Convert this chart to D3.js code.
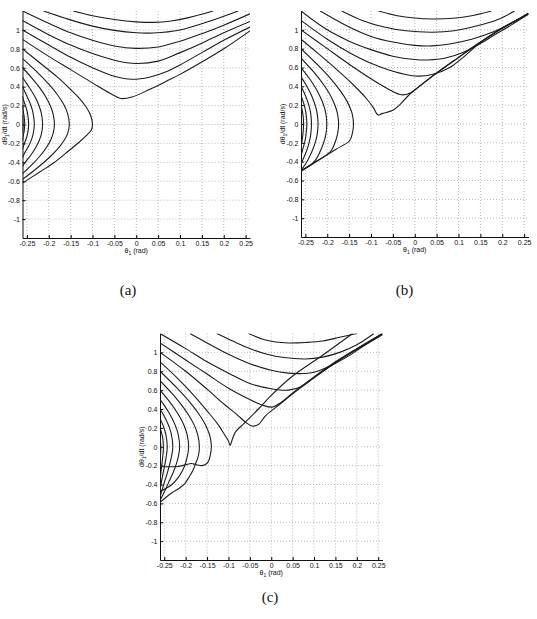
<!DOCTYPE html>
<html>
<head>
<meta charset="utf-8">
<script src="https://cdn.jsdelivr.net/npm/d3@7"></script>
<style>
  body { margin: 0; background: #fff; }
  svg { display: block; }
  .tick text { font-family: "Liberation Sans", Arial, sans-serif; font-size: 7px; fill: #111; }
  .lbl { font-family: "Liberation Sans", Arial, sans-serif; font-size: 7px; fill: #111; }
  .cap { font-family: "Liberation Serif", "DejaVu Serif", serif; font-size: 15px; fill: #111; }
</style>
</head>
<body>
<script>
// axis values
const xDomain = [-0.26, 0.26]
const yDomain = [-1.2, 1.2]
const xTicks = [-0.25, -0.2, -0.15, -0.1, -0.05, 0, 0.05, 0.1, 0.15, 0.2, 0.25]
const yTicks = [-1, -0.8, -0.6, -0.4, -0.2, 0, 0.2, 0.4, 0.6, 0.8, 1]

// trajectories [theta1, dtheta1/dt]
const curvesA = [
    [[-0.144,1.2],[-0.1,1.15],[-0.05,1.11],[0,1.085],[0.04,1.08],[0.08,1.095],[0.12,1.13],[0.176,1.2]],
    [[-0.212,1.2],[-0.16,1.12],[-0.1,1.04],[-0.05,0.995],[0,0.97],[0.04,0.968],[0.1,1.0],[0.16,1.08],[0.233,1.2]],
    [[-0.26,1.2],[-0.2,1.07],[-0.15,0.97],[-0.1,0.89],[-0.05,0.83],[0,0.805],[0.05,0.82],[0.1,0.88],[0.15,0.96],[0.2,1.05],[0.26,1.17]],
    [[-0.26,1.1],[-0.2,0.95],[-0.15,0.84],[-0.1,0.75],[-0.05,0.68],[0,0.645],[0.05,0.67],[0.1,0.76],[0.15,0.86],[0.2,0.97],[0.26,1.09]],
    [[-0.26,1.0],[-0.2,0.84],[-0.15,0.71],[-0.1,0.6],[-0.05,0.51],[-0.01,0.478],[0.03,0.5],[0.07,0.56],[0.1,0.63],[0.15,0.76],[0.2,0.89],[0.26,1.03]],
    [[-0.26,0.9],[-0.2,0.72],[-0.15,0.58],[-0.1,0.44],[-0.06,0.33],[-0.035,0.275],[-0.01,0.29],[0.03,0.37],[0.07,0.46],[0.1,0.53],[0.15,0.66],[0.2,0.8],[0.26,0.99]],
    [[-0.26,0.8],[-0.22,0.65],[-0.18,0.5],[-0.15,0.37],[-0.13,0.276],[-0.115,0.188],[-0.105,0.106],[-0.1,0],[-0.103,-0.06],[-0.115,-0.12],[-0.13,-0.185],[-0.16,-0.3],[-0.19,-0.41],[-0.22,-0.5],[-0.26,-0.62]],
    [[-0.26,0.697],[-0.23,0.57],[-0.2,0.427],[-0.18,0.315],[-0.165,0.205],[-0.157,0.117],[-0.153,0],[-0.157,-0.097],[-0.165,-0.17],[-0.18,-0.26],[-0.2,-0.354],[-0.23,-0.473],[-0.26,-0.58]],
    [[-0.26,0.6],[-0.24,0.499],[-0.22,0.384],[-0.205,0.278],[-0.195,0.182],[-0.19,0.11],[-0.187,0],[-0.19,-0.095],[-0.195,-0.158],[-0.205,-0.241],[-0.22,-0.333],[-0.24,-0.433],[-0.26,-0.52]],
    [[-0.26,0.5],[-0.25,0.429],[-0.24,0.36],[-0.23,0.28],[-0.222,0.196],[-0.217,0.119],[-0.214,0],[-0.217,-0.105],[-0.222,-0.172],[-0.23,-0.246],[-0.24,-0.317],[-0.25,-0.377],[-0.26,-0.44]],
    [[-0.26,0.4],[-0.255,0.35],[-0.248,0.28],[-0.241,0.204],[-0.236,0.124],[-0.233,0],[-0.236,-0.108],[-0.241,-0.178],[-0.248,-0.245],[-0.255,-0.3],[-0.26,-0.35]],
    [[-0.26,0.3],[-0.256,0.235],[-0.251,0.165],[-0.248,0.104],[-0.246,0],[-0.248,-0.09],[-0.251,-0.143],[-0.256,-0.204],[-0.26,-0.26]],
    [[-0.26,0.2],[-0.258,0.13],[-0.256,0.075],[-0.255,0],[-0.256,-0.064],[-0.258,-0.11],[-0.26,-0.17]],
    [[-0.26,0.1],[-0.2595,0.05],[-0.259,0],[-0.2595,-0.04],[-0.26,-0.085]]
]

const curvesB = [
    [[-0.083,1.2],[-0.04,1.15],[0,1.125],[0.04,1.115],[0.08,1.12],[0.13,1.15],[0.175,1.2]],
    [[-0.167,1.2],[-0.12,1.1],[-0.07,1.03],[-0.02,0.99],[0.04,0.975],[0.09,0.99],[0.14,1.04],[0.19,1.11],[0.228,1.2]],
    [[-0.216,1.2],[-0.15,1.03],[-0.1,0.93],[-0.05,0.87],[0,0.835],[0.04,0.83],[0.08,0.85],[0.13,0.9],[0.18,0.98],[0.22,1.07],[0.26,1.18]],
    [[-0.26,1.2],[-0.2,1.0],[-0.15,0.88],[-0.1,0.79],[-0.05,0.72],[0,0.685],[0.03,0.68],[0.07,0.7],[0.11,0.76],[0.15,0.855],[0.18,0.94],[0.22,1.05],[0.26,1.168]],
    [[-0.26,1.1],[-0.2,0.9],[-0.15,0.76],[-0.1,0.645],[-0.05,0.56],[0,0.51],[0.04,0.525],[0.08,0.6],[0.11,0.705],[0.15,0.865],[0.2,1.015],[0.26,1.172]],
    [[-0.26,1.0],[-0.2,0.8],[-0.15,0.635],[-0.1,0.48],[-0.06,0.37],[-0.03,0.31],[-0.01,0.33],[0.01,0.4],[0.05,0.54],[0.1,0.705],[0.15,0.868],[0.2,1.018],[0.26,1.17]],
    [[-0.26,0.9],[-0.22,0.745],[-0.18,0.585],[-0.14,0.414],[-0.11,0.268],[-0.095,0.176],[-0.084,0.095],[-0.075,0.11],[-0.05,0.145],[-0.035,0.2],[-0.015,0.3],[0,0.36],[0.05,0.542],[0.1,0.708],[0.15,0.87],[0.2,1.02],[0.26,1.165]],
    [[-0.26,0.8],[-0.22,0.619],[-0.19,0.469],[-0.17,0.352],[-0.155,0.243],[-0.145,0.138],[-0.142,0.087],[-0.14,0],[-0.142,-0.087],[-0.149,-0.178],[-0.18,-0.268],[-0.22,-0.385],[-0.26,-0.502]],
    [[-0.26,0.7],[-0.23,0.548],[-0.205,0.395],[-0.19,0.278],[-0.18,0.167],[-0.176,0.095],[-0.174,0],[-0.176,-0.095],[-0.18,-0.167],[-0.19,-0.276],[-0.2,-0.322],[-0.23,-0.41],[-0.26,-0.497]],
    [[-0.26,0.6],[-0.24,0.478],[-0.225,0.369],[-0.213,0.257],[-0.206,0.165],[-0.203,0.104],[-0.201,0],[-0.203,-0.104],[-0.206,-0.165],[-0.213,-0.257],[-0.225,-0.37],[-0.235,-0.425],[-0.26,-0.495]],
    [[-0.26,0.5],[-0.25,0.427],[-0.24,0.342],[-0.232,0.258],[-0.226,0.174],[-0.223,0.111],[-0.221,0],[-0.223,-0.111],[-0.226,-0.174],[-0.232,-0.258],[-0.24,-0.342],[-0.25,-0.427],[-0.26,-0.49]],
    [[-0.26,0.4],[-0.253,0.334],[-0.246,0.256],[-0.241,0.182],[-0.238,0.118],[-0.236,0],[-0.238,-0.12],[-0.241,-0.19],[-0.246,-0.27],[-0.253,-0.35],[-0.26,-0.42]],
    [[-0.26,0.3],[-0.256,0.251],[-0.252,0.189],[-0.249,0.126],[-0.2466,0],[-0.249,-0.13],[-0.252,-0.2],[-0.256,-0.27],[-0.26,-0.34]],
    [[-0.26,0.2],[-0.257,0.14],[-0.255,0.078],[-0.2541,0],[-0.255,-0.08],[-0.257,-0.16],[-0.26,-0.25]],
    [[-0.26,0.1],[-0.2592,0.05],[-0.2586,0],[-0.2592,-0.06],[-0.26,-0.13]]
]

const curvesC = [
    [[-0.053,1.2],[-0.02,1.14],[0.01,1.11],[0.04,1.1],[0.08,1.105],[0.12,1.12],[0.16,1.16],[0.2,1.2]],
    [[-0.127,1.2],[-0.09,1.12],[-0.05,1.04],[-0.01,0.98],[0.03,0.945],[0.08,0.93],[0.12,0.95],[0.16,1.0],[0.2,1.08],[0.24,1.2]],
    [[-0.19,1.2],[-0.15,1.1],[-0.1,0.98],[-0.05,0.88],[0,0.81],[0.04,0.78],[0.065,0.775],[0.1,0.79],[0.14,0.86],[0.18,0.96],[0.22,1.08],[0.26,1.19]],
    [[-0.26,1.2],[-0.2,1.04],[-0.15,0.9],[-0.1,0.78],[-0.05,0.67],[0,0.615],[0.04,0.6],[0.07,0.635],[0.1,0.735],[0.14,0.86],[0.18,0.98],[0.22,1.09],[0.26,1.2]],
    [[-0.26,1.1],[-0.2,0.92],[-0.15,0.77],[-0.1,0.62],[-0.05,0.5],[-0.02,0.44],[0.002,0.42],[0.02,0.46],[0.05,0.57],[0.1,0.74],[0.15,0.9],[0.2,1.04],[0.26,1.2]],
    [[-0.26,1.0],[-0.2,0.8],[-0.15,0.61],[-0.11,0.45],[-0.08,0.34],[-0.06,0.26],[-0.045,0.22],[-0.03,0.235],[-0.013,0.33],[0.02,0.45],[0.05,0.56],[0.1,0.73],[0.15,0.89],[0.2,1.03],[0.26,1.19]],
    [[-0.26,0.9],[-0.22,0.73],[-0.18,0.54],[-0.15,0.38],[-0.125,0.24],[-0.108,0.12],[-0.1,0.06],[-0.096,0.015],[-0.091,0.08],[-0.083,0.16],[-0.064,0.246],[-0.03,0.4],[0,0.545],[0.05,0.75],[0.12,0.97],[0.19,1.2]],
    [[-0.26,0.8],[-0.22,0.62],[-0.19,0.47],[-0.17,0.352],[-0.155,0.243],[-0.145,0.138],[-0.142,0.087],[-0.14,0],[-0.142,-0.08],[-0.1475,-0.16],[-0.155,-0.19],[-0.163,-0.2],[-0.175,-0.19],[-0.187,-0.177],[-0.2,-0.19],[-0.218,-0.21],[-0.24,-0.212],[-0.26,-0.21]],
    [[-0.26,0.7],[-0.23,0.554],[-0.205,0.415],[-0.19,0.313],[-0.18,0.229],[-0.172,0.131],[-0.168,0],[-0.17,-0.09],[-0.176,-0.17],[-0.182,-0.24],[-0.192,-0.32],[-0.202,-0.39],[-0.215,-0.44],[-0.233,-0.49],[-0.26,-0.59]],
    [[-0.26,0.6],[-0.24,0.491],[-0.225,0.398],[-0.212,0.302],[-0.203,0.217],[-0.197,0.136],[-0.193,0],[-0.196,-0.1],[-0.2,-0.17],[-0.207,-0.25],[-0.218,-0.33],[-0.232,-0.4],[-0.26,-0.475]],
    [[-0.26,0.5],[-0.25,0.438],[-0.24,0.368],[-0.232,0.303],[-0.224,0.224],[-0.218,0.141],[-0.214,0],[-0.217,-0.1],[-0.221,-0.17],[-0.228,-0.26],[-0.237,-0.35],[-0.248,-0.46],[-0.26,-0.57]],
    [[-0.26,0.4],[-0.252,0.34],[-0.245,0.279],[-0.239,0.214],[-0.234,0.142],[-0.23,0],[-0.233,-0.1],[-0.237,-0.18],[-0.243,-0.28],[-0.25,-0.38],[-0.26,-0.53]],
    [[-0.26,0.3],[-0.255,0.25],[-0.25,0.19],[-0.246,0.124],[-0.243,0],[-0.246,-0.12],[-0.25,-0.22],[-0.255,-0.33],[-0.26,-0.46]],
    [[-0.26,0.2],[-0.257,0.158],[-0.254,0.1],[-0.252,0],[-0.254,-0.12],[-0.257,-0.24],[-0.26,-0.36]],
    [[-0.26,0.1],[-0.259,0.06],[-0.258,0],[-0.259,-0.1],[-0.26,-0.22]]
]

const panels = [
    { id: 'a', curves: curvesA, left: 22.5, top: 11, width: 227.5, height: 227, caption: '(a)', capX: 128, capY: 295 },
    { id: 'b', curves: curvesB, left: 301, top: 11, width: 227.5, height: 226, caption: '(b)', capX: 404.5, capY: 295 },
    { id: 'c', curves: curvesC, left: 160, top: 333.5, width: 222.5, height: 226.5, caption: '(c)', capX: 270, capY: 602 }
]

const svg = d3.select('body')
    .append('svg')
    .attr('width', 537)
    .attr('height', 619)

const fmt = d => String(d)

panels.forEach(p => {
    const x = d3.scaleLinear().domain(xDomain).range([p.left, p.left + p.width])
    const y = d3.scaleLinear().domain(yDomain).range([p.top + p.height, p.top])
    const bottom = p.top + p.height
    const g = svg.append('g')

    g.append('clipPath').attr('id', 'clip-' + p.id)
        .append('rect')
        .attr('x', p.left).attr('y', p.top)
        .attr('width', p.width).attr('height', p.height)

    // dotted grid
    g.append('g').selectAll('line').data(xTicks).join('line')
        .attr('x1', d => x(d)).attr('x2', d => x(d))
        .attr('y1', p.top).attr('y2', bottom)
        .attr('stroke', '#8a8a8a').attr('stroke-width', 0.6).attr('stroke-dasharray', '1,2')
    g.append('g').selectAll('line').data(yTicks).join('line')
        .attr('x1', p.left).attr('x2', p.left + p.width)
        .attr('y1', d => y(d)).attr('y2', d => y(d))
        .attr('stroke', '#8a8a8a').attr('stroke-width', 0.6).attr('stroke-dasharray', '1,2')

    // axes
    g.append('g')
        .attr('transform', `translate(0,${bottom})`)
        .call(d3.axisBottom(x).tickValues(xTicks).tickSize(-3).tickSizeOuter(0).tickFormat(fmt))
        .call(a => a.select('.domain').attr('stroke', '#111'))
    g.append('g')
        .attr('transform', `translate(${p.left},0)`)
        .call(d3.axisLeft(y).tickValues(yTicks).tickSize(-3).tickSizeOuter(0).tickFormat(fmt).tickPadding(2.5))
        .call(a => a.select('.domain').attr('stroke', '#111'))

    // axis titles
    const xl = g.append('text').attr('class', 'lbl')
        .attr('x', x(0)).attr('y', bottom + 14.5).attr('text-anchor', 'middle')
    xl.append('tspan').text('θ')
    xl.append('tspan').attr('font-size', '5px').attr('dy', 2).text('1')
    xl.append('tspan').attr('dy', -2).text(' (rad)')

    const yl = g.append('text').attr('class', 'lbl')
        .attr('transform', `translate(${p.left - 16},${y(0)}) rotate(-90)`)
        .attr('text-anchor', 'middle')
    yl.append('tspan').text('dθ')
    yl.append('tspan').attr('font-size', '5px').attr('dy', 2).text('1')
    yl.append('tspan').attr('dy', -2).text('/dt (rad/s)')

    // trajectories
    const line = d3.line()
        .curve(d3.curveCatmullRom.alpha(0.5))
        .x(d => x(d[0]))
        .y(d => y(d[1]))

    g.append('g').attr('clip-path', `url(#clip-${p.id})`)
        .selectAll('path').data(p.curves).join('path')
        .attr('d', line)
        .attr('fill', 'none')
        .attr('stroke', '#1c1c1c')
        .attr('stroke-width', 1.1)

    svg.append('text').attr('class', 'cap')
        .attr('x', p.capX).attr('y', p.capY)
        .attr('text-anchor', 'middle')
        .text(p.caption)
})
</script>
</body>
</html>
